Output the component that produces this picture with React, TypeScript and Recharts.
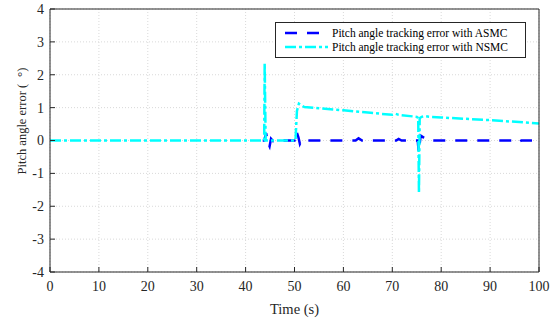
import React from 'react';
import { LineChart, Line, XAxis, YAxis, CartesianGrid } from 'recharts';

// time (s) / pitch error (deg)
const asmcTime = [43.5, 43.8, 44.2, 44.5, 44.9, 45.2, 45.6, 46, 50, 50.4, 50.8, 51.1, 51.4, 62.5, 63.1, 63.8, 70.8, 71.3, 71.9, 75.2, 75.4, 75.6, 75.8, 77.3, 95.3, 95.8, 96.4, 100];
const asmcValue = [0, 0, 0.22, -0.05, -0.18, 0.05, -0.02, 0, 0, 0.28, 0.1, -0.1, 0, 0, 0.07, 0, 0, 0.05, 0, 0, -0.35, -0.1, 0.15, 0, 0, -0.06, 0, 0];

const nsmcTime = [0, 43.8, 43.9, 44.1, 50.2, 50.5, 50.9, 52, 55, 60, 65, 70, 70.7, 71.3, 75, 75.3, 75.45, 75.6, 76, 76.7, 77.5, 80, 90, 100];
const nsmcValue = [0, 0, 2.35, 0, 0, 0.9, 1.12, 1.02, 0.98, 0.92, 0.85, 0.78, 0.81, 0.78, 0.72, 0.68, -1.6, 0.68, 0.72, 0.74, 0.72, 0.7, 0.62, 0.52];

const xTicks = [0, 10, 20, 30, 40, 50, 60, 70, 80, 90, 100];
const yTicks = [-4, -3, -2, -1, 0, 1, 2, 3, 4];

const asmcData = asmcTime.map((t, i) => ({ t, v: asmcValue[i] }));
const nsmcData = nsmcTime.map((t, i) => ({ t, v: nsmcValue[i] }));

const FONT = '"Liberation Serif", "Times New Roman", serif';
const AXIS = '#262626';
const BLUE = '#0000ff';
const CYAN = '#00ffff';
const ASMC_DASH = '12 10';
const NSMC_DASH = '11 3 3 3';

const tickStyle = { fontSize: 14, fontFamily: FONT, fill: AXIS };

const legendItems = [
  { label: 'Pitch angle tracking error with ASMC', color: BLUE, dash: ASMC_DASH, w: 35 },
  { label: 'Pitch angle tracking error with NSMC', color: CYAN, dash: NSMC_DASH, w: 43 },
];

const LegendBox = () => (
  <div
    style={{
      position: 'absolute',
      left: 275,
      top: 22,
      width: 251,
      height: 36,
      border: `1px solid ${AXIS}`,
      background: '#fff',
      fontFamily: FONT,
      fontSize: 11.5,
      color: '#000',
      boxSizing: 'border-box',
      paddingTop: 3,
    }}
  >
    {legendItems.map((item) => (
      <div key={item.label} style={{ display: 'flex', alignItems: 'center', height: 14 }}>
        <svg width={56} height={10} style={{ flex: 'none' }}>
          <line x1={9} x2={9 + item.w} y1={5} y2={5} stroke={item.color} strokeWidth={2.5} strokeDasharray={item.dash} />
        </svg>
        <span style={{ whiteSpace: 'nowrap' }}>{item.label}</span>
      </div>
    ))}
  </div>
);

const YLabel = () => (
  <text
    x={22}
    y={121}
    transform="rotate(-90 22 121)"
    textAnchor="middle"
    dominantBaseline="central"
    fontSize={12.5}
    fontFamily={FONT}
    fill={AXIS}
  >
    Pitch angle error (
    <tspan dx={7} dy={-1} fontSize={13}>°</tspan>
    <tspan dy={1}>)</tspan>
  </text>
);

const App: React.FC = () => {
  return (
    <div style={{ position: 'absolute', left: 0, top: 0, width: 552, height: 320, background: '#fff' }}>
      <LineChart width={552} height={320} margin={{ top: 8, right: 12, bottom: 18, left: 10 }}>
        <CartesianGrid stroke="#d9d9d9" strokeDasharray="1 2" xAxisId="b" yAxisId="l" />
        <XAxis
          xAxisId="b"
          dataKey="t"
          type="number"
          domain={[0, 100]}
          ticks={xTicks}
          allowDataOverflow
          height={30}
          stroke={AXIS}
          tickSize={-5}
          tickMargin={14}
          tick={tickStyle}
          label={{ value: 'Time (s)', position: 'insideBottom', offset: -12, style: { fontSize: 14.5, fontFamily: FONT, fill: AXIS } }}
        />
        <XAxis
          xAxisId="t"
          orientation="top"
          dataKey="t"
          type="number"
          domain={[0, 100]}
          ticks={xTicks}
          height={1}
          stroke={AXIS}
          tickSize={-5}
          tickFormatter={() => ''}
        />
        <YAxis
          yAxisId="l"
          type="number"
          domain={[-4, 4]}
          ticks={yTicks}
          allowDataOverflow
          width={40}
          stroke={AXIS}
          tickSize={-5}
          tickMargin={11}
          tick={tickStyle}
          label={{ content: () => <YLabel /> }}
        />
        <YAxis
          yAxisId="r"
          orientation="right"
          type="number"
          domain={[-4, 4]}
          ticks={yTicks}
          width={1}
          stroke={AXIS}
          tickSize={-5}
          tickFormatter={() => ''}
        />
        <Line
          xAxisId="b"
          yAxisId="l"
          data={asmcData}
          dataKey="v"
          type="linear"
          stroke={BLUE}
          strokeWidth={2.5}
          strokeDasharray={ASMC_DASH}
          dot={false}
          isAnimationActive={false}
        />
        <Line
          xAxisId="b"
          yAxisId="l"
          data={nsmcData}
          dataKey="v"
          type="linear"
          stroke={CYAN}
          strokeWidth={2.5}
          strokeDasharray={NSMC_DASH}
          dot={false}
          isAnimationActive={false}
        />
      </LineChart>
      <LegendBox />
    </div>
  );
};

export default App;
